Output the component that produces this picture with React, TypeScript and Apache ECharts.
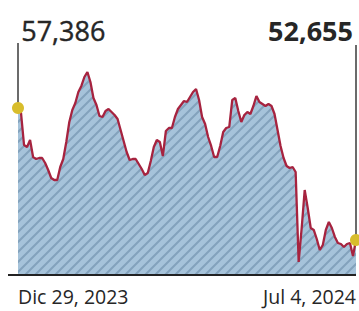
import React, { useEffect, useRef } from "react";
import * as echarts from "echarts";

const startLabel = "Dic 29, 2023";
const endLabel = "Jul 4, 2024";
const xTickLabels = [startLabel, endLabel];

const values = [
  57386, 57205, 56058, 55987, 56238, 55628, 55557, 55593, 55593, 55413,
  55163, 54876, 54804, 54804, 55270, 55557, 56166, 56883, 57313, 57563,
  57958, 58173, 58495, 58674, 58316, 57743, 57492, 57098, 57062, 57277,
  57348, 57241, 57133, 56990, 56596, 56202, 55808, 55521, 55557, 55557,
  55378, 55198, 54983, 55055, 55485, 55987, 56238, 56166, 55664, 56560,
  56668, 56668, 57062, 57348, 57492, 57635, 57599, 57778, 57958, 58065,
  57671, 57062, 56811, 56345, 56023, 55628, 55628, 56023, 56524, 56668,
  56703, 57671, 57743, 57277, 56883, 57133, 57241, 57169, 57456, 57814,
  57599, 57528, 57456, 57528, 57456, 57169, 56596, 56023, 55593, 55306,
  55234, 55270, 55091, 51866, 53084, 54446, 53801, 53084, 53013, 52690,
  52296, 52475, 53013, 53299, 53084, 52762, 52547, 52511, 52403, 52511,
  52547, 52081, 52655,
];

const categories = values.map((_, i) => String(i));

const yMin = 51400;
const yMax = 60000;
const leftLineTop = 59713;
const rightLineTop = 59642;

function makePattern(): HTMLCanvasElement {
  const s = 10;
  const c = document.createElement("canvas");
  c.width = s;
  c.height = s;
  const ctx = c.getContext("2d")!;
  ctx.fillStyle = "#a6c3da";
  ctx.fillRect(0, 0, s, s);
  ctx.strokeStyle = "#83a2bc";
  ctx.lineWidth = 2;
  ctx.beginPath();
  ctx.moveTo(-1, s + 1);
  ctx.lineTo(s + 1, -1);
  ctx.moveTo(-2, 2);
  ctx.lineTo(2, -2);
  ctx.moveTo(s - 2, s + 2);
  ctx.lineTo(s + 2, s - 2);
  ctx.stroke();
  return c;
}

const fmt = (v: number) => v.toLocaleString("en-US");

export default function App() {
  const ref = useRef<HTMLDivElement>(null);
  useEffect(() => {
    if (!ref.current) return;
    const chart = echarts.init(ref.current, undefined, { renderer: "svg" });
    const last = values.length - 1;
    const font = "'Open Sans', sans-serif";
    chart.setOption({
      animation: false,
      grid: { left: 18, right: 3, top: 35, bottom: 36 },
      xAxis: {
        type: "category",
        data: categories,
        boundaryGap: false,
        axisLine: { show: false },
        axisTick: { show: false },
        splitLine: { show: false },
        axisLabel: {
          show: true,
          interval: 0,
          margin: 11,
          color: "#262626",
          fontSize: 19.5,
          fontFamily: font,
          alignMinLabel: "left",
          alignMaxLabel: "right",
          formatter: (_: string, i: number) =>
            i === 0 ? xTickLabels[0] : i === last ? xTickLabels[1] : "",
        },
      },
      yAxis: {
        type: "value",
        min: yMin,
        max: yMax,
        show: false,
        splitLine: { show: false },
      },
      graphic: [
        {
          type: "line",
          shape: { x1: 8, y1: 275, x2: 356, y2: 275 },
          style: { stroke: "#222", lineWidth: 2 },
          z: 10,
        },
        {
          type: "text",
          left: 21,
          top: 17,
          style: {
            text: fmt(values[0]),
            fontSize: 27,
            fontFamily: font,
            fill: "#262626",
            stroke: "#262626",
            lineWidth: 0.4,
          },
        },
        {
          type: "text",
          right: 6,
          top: 17,
          style: {
            text: fmt(values[last]),
            fontSize: 27,
            fontWeight: "bold",
            fontFamily: font,
            fill: "#262626",
            textAlign: "right",
          },
        },
      ],
      series: [
        {
          type: "line",
          data: values,
          symbol: "none",
          lineStyle: { color: "#a6233f", width: 2.3 },
          areaStyle: {
            color: { image: makePattern(), repeat: "repeat" },
            opacity: 1,
          },
          markLine: {
            silent: true,
            symbol: ["none", "none"],
            label: { show: false },
            lineStyle: { color: "#3a3a3a", width: 1.5, type: "solid" },
            data: [
              [{ coord: ["0", values[0]] }, { coord: ["0", leftLineTop] }],
              [
                { coord: [String(last), values[last]] },
                { coord: [String(last), rightLineTop] },
              ],
            ],
          },
          markPoint: {
            silent: true,
            symbol: "circle",
            symbolSize: 12,
            label: { show: false },
            itemStyle: { color: "#d8bd2c" },
            data: [
              { coord: ["0", values[0]] },
              { coord: [String(last), values[last]] },
            ],
          },
        },
      ],
    });
    return () => chart.dispose();
  }, []);
  return (
    <div
      ref={ref}
      style={{ position: "fixed", left: 0, top: 0, width: 359, height: 311, background: "#fff" }}
    />
  );
}
